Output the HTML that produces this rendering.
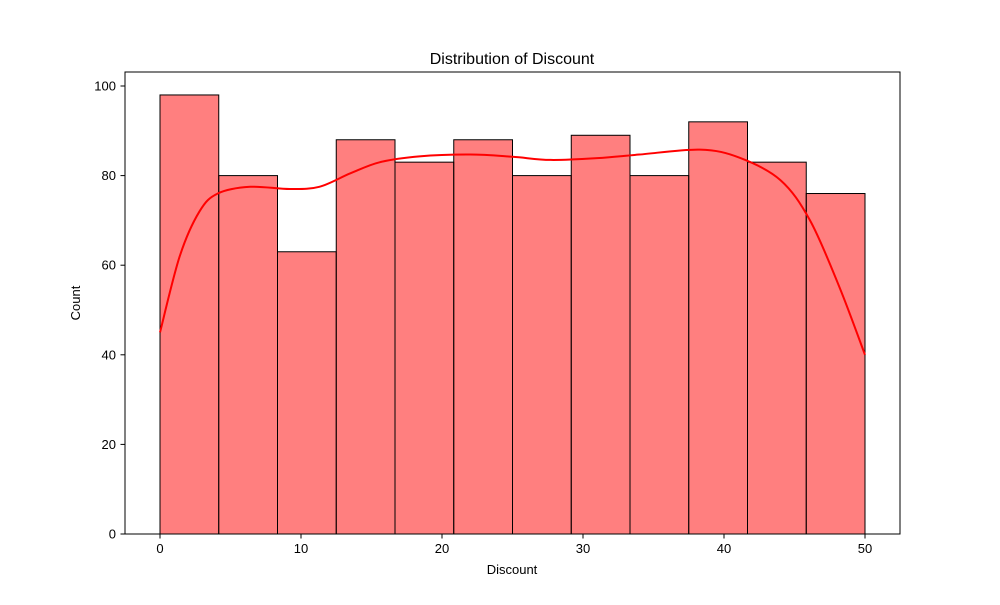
<!DOCTYPE html>
<html><head><meta charset="utf-8"><style>
body{margin:0;background:#fff;}
svg text{font-family:"Liberation Sans","DejaVu Sans",sans-serif;fill:#000;}
</style></head><body>
<svg id="chart" width="1000" height="600" xmlns="http://www.w3.org/2000/svg">
<rect x="0" y="0" width="1000" height="600" fill="#fff"/>
<g id="bars"></g>
<path id="kde" fill="none" stroke="#ff0000" stroke-width="2"/>
<rect x="125" y="72" width="775" height="462" fill="none" stroke="#000" stroke-width="1"/>
<g id="xticks"></g>
<g id="yticks"></g>
<text x="512" y="64" font-size="16" text-anchor="middle">Distribution of Discount</text>
<text x="512" y="574" font-size="13" text-anchor="middle">Discount</text>
<text x="80" y="303" font-size="13" text-anchor="middle" transform="rotate(-90 80 303)">Count</text>
</svg>
<script>
const binCounts=[98,80,63,88,83,88,80,89,80,92,83,76];
const binStart=0, binEnd=50;
const kdeX=[0,1.4,2.8,4.1,6.4,9.2,11.3,13.5,15.6,18.4,22,25,27.7,31,34,38.3,41.1,44,46.1,48.2,50];
const kdeY=[45,62,72,76,77.5,77,77.5,80.5,83,84.3,84.7,84.2,83.5,83.9,84.7,85.8,84,79,70,55,40];
const xTicks=[0,10,20,30,40,50];
const yTicks=[0,20,40,60,80,100];
const NS="http://www.w3.org/2000/svg";
const sx=v=>160+v*(865-160)/50;
const sy=v=>534-v*(534-86)/100;
const bars=document.getElementById('bars');
const w=(binEnd-binStart)/binCounts.length;
binCounts.forEach((c,i)=>{
  const r=document.createElementNS(NS,'rect');
  const x0=sx(binStart+i*w), x1=sx(binStart+(i+1)*w);
  r.setAttribute('x',x0);r.setAttribute('y',sy(c));
  r.setAttribute('width',x1-x0);r.setAttribute('height',sy(0)-sy(c));
  r.setAttribute('fill','rgba(255,0,0,0.5)');r.setAttribute('stroke','#000');r.setAttribute('stroke-width','1');
  
  
  bars.appendChild(r);
});
const pts=kdeX.map((x,i)=>[sx(x),sy(kdeY[i])]);
let d='M'+pts[0][0]+','+pts[0][1];
for(let i=0;i<pts.length-1;i++){
  const p0=pts[Math.max(0,i-1)],p1=pts[i],p2=pts[i+1],p3=pts[Math.min(pts.length-1,i+2)];
  const c1=[p1[0]+(p2[0]-p0[0])/6,p1[1]+(p2[1]-p0[1])/6];
  const c2=[p2[0]-(p3[0]-p1[0])/6,p2[1]-(p3[1]-p1[1])/6];
  d+=' C'+c1+' '+c2+' '+p2;
}
document.getElementById('kde').setAttribute('d',d);
const xg=document.getElementById('xticks');
xTicks.forEach(t=>{
  const l=document.createElementNS(NS,'line');
  l.setAttribute('x1',sx(t));l.setAttribute('x2',sx(t));l.setAttribute('y1',534);l.setAttribute('y2',538.5);l.setAttribute('stroke','#000');
  
  
  xg.appendChild(l);
  const tx=document.createElementNS(NS,'text');
  tx.setAttribute('x',sx(t));tx.setAttribute('y',553);tx.setAttribute('font-size','13');tx.setAttribute('text-anchor','middle');
  tx.textContent=t;
  
  
  xg.appendChild(tx);
});
const yg=document.getElementById('yticks');
yTicks.forEach(t=>{
  const l=document.createElementNS(NS,'line');
  l.setAttribute('x1',120.5);l.setAttribute('x2',125);l.setAttribute('y1',sy(t));l.setAttribute('y2',sy(t));l.setAttribute('stroke','#000');
  
  
  yg.appendChild(l);
  const tx=document.createElementNS(NS,'text');
  tx.setAttribute('x',116);tx.setAttribute('y',sy(t)+4.5);tx.setAttribute('font-size','13');tx.setAttribute('text-anchor','end');
  tx.textContent=t;
  
  
  yg.appendChild(tx);
});
</script>
</body></html>
